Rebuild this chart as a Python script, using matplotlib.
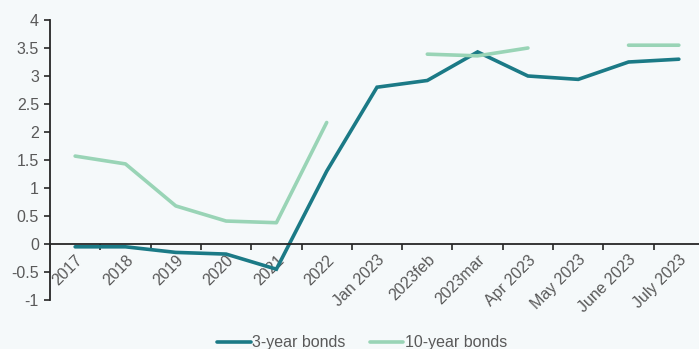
import numpy as np
import matplotlib.pyplot as plt
from matplotlib.ticker import FixedLocator

plt.rcParams["font.family"] = ["Liberation Sans", "DejaVu Sans"]

BG = "#f5f9fa"
DARK = "#1b7a86"
LIGHT = "#99d4b6"
TXT = "#595959"

categories = ["2017", "2018", "2019", "2020", "2021", "2022", "Jan 2023",
              "2023feb", "2023mar", "Apr 2023", "May 2023", "June 2023", "July 2023"]
bonds_3y = [-0.05, -0.05, -0.15, -0.18, -0.45, 1.3, 2.8, 2.92, 3.43, 3.0, 2.94, 3.25, 3.3]
bonds_10y = [1.57, 1.43, 0.68, 0.41, 0.38, 2.17, np.nan, 3.39, 3.36, 3.5, np.nan, 3.55, 3.55]

fig = plt.figure(figsize=(6.99, 3.49), dpi=100)
fig.patch.set_facecolor(BG)
ax = fig.add_axes([50 / 699, 49 / 349, 654 / 699, 280 / 349])
ax.set_facecolor(BG)

x = np.arange(len(categories))
l1, = ax.plot(x, bonds_3y, color=DARK, lw=2.6, solid_capstyle="round",
              solid_joinstyle="miter", label="3-year bonds")
l2, = ax.plot(x, bonds_10y, color=LIGHT, lw=2.6, solid_capstyle="round",
              label="10-year bonds")

ax.set_xlim(-0.5, len(categories) - 0.5)
ax.set_ylim(-1, 4)
ax.set_yticks(np.arange(-1, 4.01, 0.5))
ax.set_yticklabels(["-1", "-0.5", "0", "0.5", "1", "1.5", "2", "2.5", "3", "3.5", "4"])

for s in ["top", "right"]:
    ax.spines[s].set_visible(False)
ax.spines["bottom"].set_position(("data", 0))
ax.spines["bottom"].set_color("#262626")
ax.spines["bottom"].set_linewidth(1.3)
ax.spines["left"].set_color("#262626")
ax.spines["left"].set_linewidth(1.3)

ax.set_xticks(x)
ax.set_xticklabels(categories, rotation=45, ha="right", rotation_mode="anchor")
ax.xaxis.set_minor_locator(FixedLocator(np.arange(-0.5, len(categories), 1)))
ax.tick_params(axis="x", which="major", length=0, pad=6, labelsize=11.5, labelcolor=TXT)
ax.tick_params(axis="x", which="minor", length=4, direction="out", color="#262626", width=1.2)
ax.tick_params(axis="y", length=4, direction="out", color="#262626", width=1.2,
               labelsize=11.5, labelcolor=TXT, pad=4)

fig.legend(handles=[l1, l2], loc="center", bbox_to_anchor=(362 / 699, 6 / 349),
           ncol=2, frameon=False, fontsize=11.5, labelcolor=TXT,
           handlelength=2.1, handletextpad=0.1, columnspacing=1.5)

plt.savefig("out.png", dpi=100, facecolor=BG)
